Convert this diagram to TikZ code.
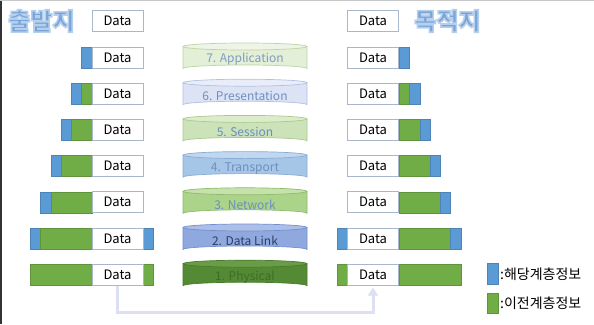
\documentclass[tikz,border=0pt]{standalone}
\usepackage{fontspec}
\newfontfamily\cjk{Noto Sans CJK KR}
\usetikzlibrary{arrows.meta}
\definecolor{hblue}{HTML}{5B9BD5}
\definecolor{hgreen}{HTML}{70AD47}
\definecolor{boxedge}{HTML}{A8B7CB}
\definecolor{titleblue}{HTML}{78A4D8}
\definecolor{conn}{HTML}{DDE0F2}
% layer colours: fill, top, edge, text
\definecolor{s7f}{HTML}{E3EFD6}\definecolor{s7t}{HTML}{EEF5E6}\definecolor{s7e}{HTML}{BCD5A4}\definecolor{s7x}{HTML}{7F9CC4}
\definecolor{s6f}{HTML}{DCE3F5}\definecolor{s6t}{HTML}{E9EDF9}\definecolor{s6e}{HTML}{B3C0E0}\definecolor{s6x}{HTML}{6F8FC0}
\definecolor{s5f}{HTML}{CCE2B8}\definecolor{s5t}{HTML}{DCECCB}\definecolor{s5e}{HTML}{A9C98D}\definecolor{s5x}{HTML}{6A8FBF}
\definecolor{s4f}{HTML}{A6C6E8}\definecolor{s4t}{HTML}{C0D7EF}\definecolor{s4e}{HTML}{88ACD5}\definecolor{s4x}{HTML}{6F8FBF}
\definecolor{s3f}{HTML}{ACD38A}\definecolor{s3t}{HTML}{C6E1AB}\definecolor{s3e}{HTML}{8DBC6C}\definecolor{s3x}{HTML}{6A8FC0}
\definecolor{s2f}{HTML}{8FA9DF}\definecolor{s2t}{HTML}{ADBFE8}\definecolor{s2e}{HTML}{7190CF}\definecolor{s2x}{HTML}{2E3D66}
\definecolor{s1f}{HTML}{558A35}\definecolor{s1t}{HTML}{6A9C48}\definecolor{s1e}{HTML}{487A2B}\definecolor{s1x}{HTML}{3F6B28}
\newcommand{\outlined}[1]{\special{pdf:literal direct 2 Tr 1.6 w 0.71 0.81 0.93 RG}#1\special{pdf:literal direct 0 Tr}}
\tikzset{
  databox/.style={draw=boxedge, line width=0.8pt, fill=white, minimum width=51pt, minimum height=21pt, inner sep=0pt, font=\cjk\fontsize{13}{13}\selectfont},
  blk/.style={line width=0.5pt},
  bluehdr/.style={blk, fill=hblue, draw=hblue!85!black},
  greenhdr/.style={blk, fill=hgreen, draw=hgreen!85!black},
  layerlbl/.style={font=\cjk\fontsize{12}{12}\selectfont, inner sep=0pt},
  titletxt/.style={font=\cjk\bfseries\fontsize{24}{24}\selectfont, inner sep=0pt, text=titleblue},
  legtxt/.style={font=\cjk\fontsize{14}{14}\selectfont, anchor=west, inner sep=0pt},
}
\newcommand{\cyl}[3]{% y, colour prefix, label
  \fill[#2f] (183,#1-11) -- (183,#1+11) arc[start angle=180,end angle=360,x radius=62,y radius=3.5] -- (307,#1-11) -- cycle;
  \draw[#2e, line width=0.7pt] (183,#1-11) -- (183,#1+11) arc[start angle=180,end angle=360,x radius=62,y radius=3.5] -- (307,#1-11);
  \draw[#2e, line width=0.7pt, fill=#2t] (245,#1-11) ellipse[x radius=62, y radius=3.5];
  \node[layerlbl, text=#2x] at (245,#1+2) {#3};
}
\begin{document}
\begin{tikzpicture}[x=1pt,y=-1pt]
\useasboundingbox (0,0) rectangle (594,324);
\fill[white] (0,0) rectangle (594,324);
\draw[black!80, line width=2pt] (1,0) -- (1,324);
\draw[black!22, line width=1pt] (0,0.5) -- (594,0.5);

% cylinders
\cyl{57.5}{s7}{7. Application}
\cyl{93.7}{s6}{6. Presentation}
\cyl{129.9}{s5}{5. Session}
\cyl{166.1}{s4}{4. Transport}
\cyl{202.3}{s3}{3. Network}
\cyl{238.5}{s2}{2. Data Link}
\cyl{274.7}{s1}{1. Physical}

% left headers
\draw[bluehdr]  (81,47) rectangle (92,68);
\draw[bluehdr]  (71,83.2) rectangle (81,104.2);
\draw[greenhdr] (81,83.2) rectangle (92,104.2);
\draw[bluehdr]  (61,119.4) rectangle (71,140.4);
\draw[greenhdr] (71,119.4) rectangle (92,140.4);
\draw[bluehdr]  (51,155.6) rectangle (61,176.6);
\draw[greenhdr] (61,155.6) rectangle (92,176.6);
\draw[bluehdr]  (40,191.8) rectangle (51,212.8);
\draw[greenhdr] (51,191.8) rectangle (92,212.8);
\draw[bluehdr]  (30,228) rectangle (40,249);
\draw[greenhdr] (40,228) rectangle (92,249);
\draw[bluehdr]  (143,228) rectangle (153,249);
\draw[greenhdr] (30,264.2) rectangle (92,285.2);
\draw[greenhdr] (143,264.2) rectangle (153,285.2);
% right headers
\draw[bluehdr]  (399,47) rectangle (409,68);
\draw[greenhdr] (399,83.2) rectangle (409,104.2);
\draw[bluehdr]  (409,83.2) rectangle (420,104.2);
\draw[greenhdr] (399,119.4) rectangle (420,140.4);
\draw[bluehdr]  (420,119.4) rectangle (430,140.4);
\draw[greenhdr] (399,155.6) rectangle (430,176.6);
\draw[bluehdr]  (430,155.6) rectangle (440,176.6);
\draw[greenhdr] (399,191.8) rectangle (440,212.8);
\draw[bluehdr]  (440,191.8) rectangle (450,212.8);
\draw[bluehdr]  (337,228) rectangle (347,249);
\draw[greenhdr] (399,228) rectangle (450,249);
\draw[bluehdr]  (450,228) rectangle (461,249);
\draw[greenhdr] (337,264.2) rectangle (347,285.2);
\draw[greenhdr] (399,264.2) rectangle (461,285.2);

% data boxes
\foreach \i/\y in {1/20.5,2/57.5,3/93.7,4/129.9,5/166.1,6/202.3,7/238.5,8/274.7}{
  \node[databox] (L\i) at (117.5,\y) {Data};
  \node[databox] (R\i) at (373,\y) {Data};
}

% connector
\coordinate (c1) at (117.5,312);
\coordinate (c2) at (373,312);
\draw[conn, line width=3pt, -{Triangle[width=10pt,length=8pt]}, shorten >=2pt]
  (L8.south) -- (c1) -- (c2) -- (R8.south);

% legend
\draw[bluehdr] (487,263) rectangle (498,284);
\node[legtxt] (leg1) at (500,274) {:해당계층정보};
\draw[greenhdr] (487,293) rectangle (498,313);
\node[legtxt] (leg2) at (500,303) {:이전계층정보};

% titles
\node[titletxt] (src) at (41.5,21) {\outlined{출발지}};
\node[titletxt] (dst) at (447.5,21) {\outlined{목적지}};
\end{tikzpicture}
\end{document}
